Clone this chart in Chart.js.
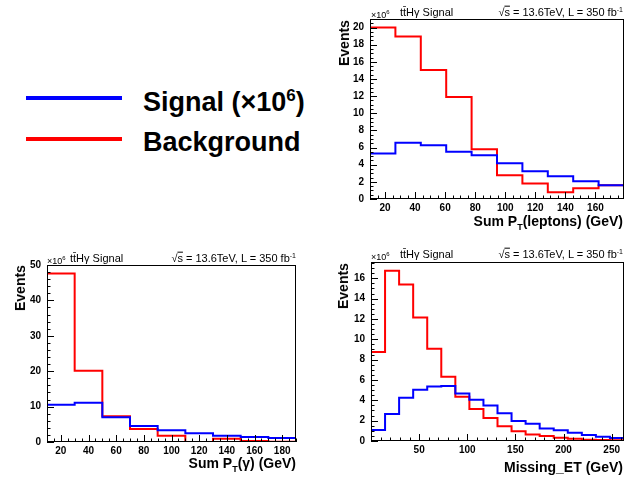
<!DOCTYPE html>
<html><head><meta charset="utf-8">
<script src="https://cdn.jsdelivr.net/npm/chart.js@4"></script>
<style>
body{margin:0;background:#fff;width:641px;height:479px;overflow:hidden;position:relative;font-family:"Liberation Sans",Arial,sans-serif;}
canvas{position:absolute;}
.t{position:absolute;white-space:nowrap;line-height:1;color:#000;}
.hd{font-size:11px;}
.x6{font-size:9px;}
.x6 sup{font-size:6px;}
.ev{font-size:14px;font-weight:bold;transform:translate(-50%,-50%) rotate(-90deg);}
.xt{font-size:14px;font-weight:bold;transform:translate(-100%,-50%);}
.xt sub{font-size:9px;}
.r{transform:translate(-100%,-50%);}
.l{transform:translate(0,-50%);}
.lg{font-size:27px;font-weight:bold;transform:translate(0,-50%);}
.lg sup{font-size:17px;}
.ln{position:absolute;height:4px;}
.ov{text-decoration:overline;}
</style>
</head><body>
<canvas id="c1" width="311" height="240" style="left:330px;top:0"></canvas>
<canvas id="c2" width="320" height="229" style="left:0;top:250px"></canvas>
<canvas id="c3" width="321" height="229" style="left:320px;top:250px"></canvas>

<div class="ln" style="left:26px;top:96px;width:96px;background:#0000ff"></div>
<div class="ln" style="left:26px;top:137px;width:96px;background:#ff0000"></div>
<div class="t lg" style="left:143px;top:101px">Signal (×10<sup>6</sup>)</div>
<div class="t lg" style="left:143px;top:142px">Background</div>

<div class="t hd l" style="left:400px;top:12px">tt̄Hγ Signal</div>
<div class="t hd r" style="left:623px;top:12px">√<span class="ov">s</span> = 13.6TeV, L = 350 fb<sup style="font-size:7px">-1</sup></div>
<div class="t x6 l" style="left:371px;top:14px">×10<sup>6</sup></div>
<div class="t ev" style="left:344px;top:43px">Events</div>
<div class="t xt" style="left:623px;top:223px">Sum P<sub>T</sub>(leptons) (GeV)</div>

<div class="t hd l" style="left:70px;top:258px">tt̄Hγ Signal</div>
<div class="t hd r" style="left:296px;top:258px">√<span class="ov">s</span> = 13.6TeV, L = 350 fb<sup style="font-size:7px">-1</sup></div>
<div class="t x6 l" style="left:47px;top:260px">×10<sup>6</sup></div>
<div class="t ev" style="left:20px;top:288px">Events</div>
<div class="t xt" style="left:296px;top:465px">Sum P<sub>T</sub>(γ) (GeV)</div>

<div class="t hd l" style="left:400px;top:254px">tt̄Hγ Signal</div>
<div class="t hd r" style="left:623px;top:254px">√<span class="ov">s</span> = 13.6TeV, L = 350 fb<sup style="font-size:7px">-1</sup></div>
<div class="t x6 l" style="left:371px;top:256px">×10<sup>6</sup></div>
<div class="t ev" style="left:343px;top:286px">Events</div>
<div class="t xt" style="left:623px;top:467px">Missing_ET (GeV)</div>

<script>
// bin edges and contents (units of 10^6 events)
var lepEdges=[10,26.9,43.8,60.7,77.6,94.5,111.4,128.3,145.2,162.1,179];
var lepSig=[5.3,6.55,6.28,5.5,5.1,4.17,3.24,2.65,2.07,1.6];
var lepBkg=[20.0,18.95,15.05,11.9,5.8,2.77,1.8,0.78,1.25,1.6];
var lepXTicks=[20,40,60,80,100,120,140,160];
var lepYTicks=[0,2,4,6,8,10,12,14,16,18,20];

var phoEdges=[10,30,50,70,90,110,130,150,170,190];
var phoSig=[10.5,11.1,7.0,4.5,3.3,2.45,1.8,1.4,1.1];
var phoBkg=[47.6,20.15,7.3,3.7,1.8,0,0.95,0.3,0.1];
var phoXTicks=[20,40,60,80,100,120,140,160,180];
var phoYTicks=[0,10,20,30,40,50];

var metEdges=[0,14.6,29.2,43.8,58.4,73,87.6,102.2,116.8,131.4,146,160.6,175.2,189.8,204.4,219,233.6,248.2,262.8];
var metSig=[1.08,2.65,4.25,5.04,5.37,5.4,4.68,4.06,3.5,2.72,1.96,1.7,1.24,1.05,0.82,0.59,0.43,0.3];
var metBkg=[8.74,16.75,15.38,12.14,9.06,6.32,4.35,3.14,2.26,1.44,0.95,0.65,0.49,0.33,0.23,0.13,0.1,0.07];
var metXTicks=[50,100,150,200,250];
var metYTicks=[0,2,4,6,8,10,12,14,16];

function hist(edges,vals){
  var p=vals.map(function(v,i){return{x:edges[i],y:v};});
  p.push({x:edges[edges.length-1],y:vals[vals.length-1]});
  return p;
}

var rootFrame={
  id:'rootFrame',
  afterDatasetsDraw:function(c,args,o){
    var a=c.chartArea,ctx=c.ctx,xs=c.scales.x,ys=c.scales.y;
    ctx.save();
    ctx.strokeStyle='#000';ctx.lineWidth=1;
    ctx.strokeRect(Math.round(a.left)+0.5,Math.round(a.top)+0.5,Math.round(a.width)-1,Math.round(a.height)-1);
    function isMajor(v,list){return list.some(function(m){return Math.abs(m-v)<1e-6;});}
    ctx.beginPath();
    var n0=Math.ceil(xs.min/o.xMinor-1e-9),n1=Math.floor(xs.max/o.xMinor+1e-9),i,v,px,len;
    for(i=n0;i<=n1;i++){
      v=i*o.xMinor;px=Math.round(xs.getPixelForValue(v))+0.5;
      len=isMajor(v,o.xMajor)?7:3.5;
      ctx.moveTo(px,a.bottom);ctx.lineTo(px,a.bottom-len);
    }
    n0=Math.ceil(ys.min/o.yMinor-1e-9);n1=Math.floor(ys.max/o.yMinor+1e-9);
    for(i=n0;i<=n1;i++){
      v=i*o.yMinor;px=Math.round(ys.getPixelForValue(v))+0.5;
      len=isMajor(v,o.yMajor)?7:3.5;
      ctx.moveTo(a.left,px);ctx.lineTo(a.left+len,px);
    }
    ctx.stroke();
    ctx.restore();
  }
};

var tickFont={family:'Liberation Sans',size:10,weight:'bold'};

function makeChart(id,edges,sig,bkg,ax){
  return new Chart(document.getElementById(id),{
    type:'line',
    data:{datasets:[
      {data:hist(edges,sig),borderColor:'#0000ff',borderWidth:2,pointRadius:0,fill:false,stepped:'before'},
      {data:hist(edges,bkg),borderColor:'#ff0000',borderWidth:2,pointRadius:0,fill:false,stepped:'before'}
    ]},
    options:{
      responsive:false,animation:false,
      layout:{padding:{top:ax.top,right:ax.right,left:0,bottom:0}},
      plugins:{legend:{display:false},tooltip:{enabled:false},
        rootFrame:{xMinor:ax.xMinor,xMajor:ax.xTicks,yMinor:ax.yMinor,yMajor:ax.yTicks}},
      scales:{
        x:{type:'linear',min:edges[0],max:edges[edges.length-1],
          afterBuildTicks:function(s){s.ticks=ax.xTicks.map(function(v){return{value:v};});},
          afterFit:function(s){s.height=ax.xH;},
          grid:{display:false,drawTicks:false},border:{display:false},
          ticks:{padding:3,color:'#000',font:tickFont,maxRotation:0,autoSkip:false}},
        y:{type:'linear',min:0,max:ax.yMax,
          afterBuildTicks:function(s){s.ticks=ax.yTicks.map(function(v){return{value:v};});},
          afterFit:function(s){s.width=ax.yW;},
          grid:{display:false,drawTicks:false},border:{display:false},
          ticks:{padding:6,color:'#000',font:tickFont,autoSkip:false}}
      }
    },
    plugins:[rootFrame]
  });
}

makeChart('c1',lepEdges,lepSig,lepBkg,{top:19,right:17,yW:40,xH:41,xTicks:lepXTicks,xMinor:5,yMax:21,yTicks:lepYTicks,yMinor:0.5});
makeChart('c2',phoEdges,phoSig,phoBkg,{top:15,right:24,yW:47,xH:37,xTicks:phoXTicks,xMinor:5,yMax:50,yTicks:phoYTicks,yMinor:2});
makeChart('c3',metEdges,metSig,metBkg,{top:11,right:17,yW:51,xH:38,xTicks:metXTicks,xMinor:10,yMax:17.6,yTicks:metYTicks,yMinor:0.5});
</script>
</body></html>
